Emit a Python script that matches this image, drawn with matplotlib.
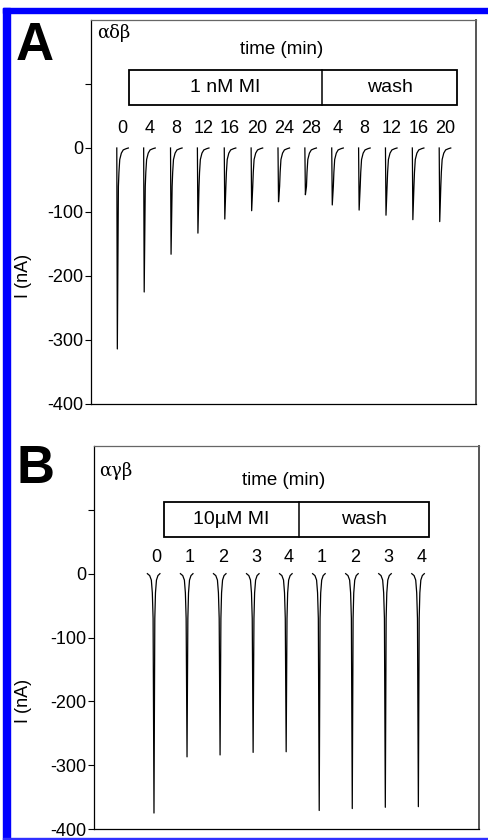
import matplotlib.pyplot as plt
from matplotlib.patches import Rectangle
import numpy as np

plt.rcParams['font.family'] = ['Liberation Sans', 'DejaVu Sans']

# panel A: alpha-delta-beta, 1 nM MI then wash
a_labels = ["0", "4", "8", "12", "16", "20", "24", "28", "4", "8", "12", "16", "20"]
a_peaks = [-314, -225, -166, -133, -111, -98, -84, -73, -89, -97, -105, -112, -115]

# panel B: alpha-gamma-beta, 10 uM MI then wash
b_labels = ["0", "1", "2", "3", "4", "1", "2", "3", "4"]
b_peaks = [-375, -287, -284, -280, -279, -371, -368, -366, -365]

# trace template (offset in slot units, current in nA), None = peak value
a_shape_t = [-0.02, 0.0, 0.04, 0.06, 0.09, 0.15, 0.22, 0.33, 0.41]
a_shape_i = [0, None, -60, -38, -18, -8, -3, -1, 0]
b_shape_t = [-0.20, -0.13, -0.08, -0.05, -0.027, 0.0, 0.025, 0.045, 0.075, 0.12, 0.18]
b_shape_i = [0, -3, -10, -30, -70, None, -70, -30, -10, -3, 0]

W, H = 488, 840
fig = plt.figure(figsize=(W / 100, H / 100), dpi=100)

# blue frame
fig.patches.append(Rectangle((3 / W, 0), 7 / W, 1 - 8 / H, transform=fig.transFigure,
                             color='#0000ff', zorder=0))
fig.patches.append(Rectangle((3 / W, 1 - 13 / H), 1, 5 / H, transform=fig.transFigure,
                             color='#0000ff', zorder=0))
fig.patches.append(Rectangle((3 / W, 1 / H), 1, 1.2 / H, transform=fig.transFigure,
                             color='#3030ff', zorder=0))


def draw_panel(rect, xlim, labels, peaks, shape_t, shape_i, shift, box, divider,
               drug, title, tlab, nlab, subunits, letter, letter_y):
    ax = fig.add_axes(rect)
    for i, p in enumerate(peaks):
        xs = [i + shift + t for t in shape_t]
        ys = [p if v is None else v for v in shape_i]
        ax.plot(xs, ys, color='black', lw=0.9)
        ax.text(i, nlab, labels[i], ha='center', va='center', fontsize=13)
    ax.set_xlim(*xlim)
    ax.set_ylim(-400, 200)
    ax.set_xticks([])
    ax.set_yticks([-400, -300, -200, -100, 0, 100])
    ax.set_yticklabels(['-400', '-300', '-200', '-100', '0', ''])
    ax.tick_params(axis='y', direction='out', length=4, width=0.8, pad=1.5, labelsize=13)
    for s in ax.spines.values():
        s.set_linewidth(0.9)
    ax.spines['right'].set_color('#555555')
    ax.spines['right'].set_linewidth(1.4)
    ax.spines['top'].set_color('#666666')

    x0, x1 = box[0], box[1]
    y0, y1 = box[2], box[3]
    ax.add_patch(Rectangle((x0, y0), x1 - x0, y1 - y0, fill=False, lw=1.3, ec='black'))
    ax.plot([divider, divider], [y0, y1], color='black', lw=1.1)
    ax.text((x0 + divider) / 2, (y0 + y1) / 2, drug, ha='center', va='center', fontsize=14)
    ax.text((divider + x1) / 2, (y0 + y1) / 2, 'wash', ha='center', va='center', fontsize=14)
    ax.text(title[0], title[1], 'time (min)', ha='center', va='center', fontsize=13.5)
    ax.text(tlab[0], tlab[1], subunits, ha='left', va='center', fontsize=13,
            family='DejaVu Serif')
    ax.text((23 - rect[0] * W) / (rect[2] * W), 1 / 3, 'I (nA)', rotation=90,
            ha='center', va='center', fontsize=13, transform=ax.transAxes)
    fig.text(16 / W, 1 - letter_y / H, letter, fontsize=38, fontweight='bold',
             ha='left', va='baseline')
    return ax


draw_panel([91 / W, 1 - 404 / H, 385 / W, 384 / H], (-1.18, 13.15),
           a_labels, a_peaks, a_shape_t, a_shape_i, -0.2,
           (0.235, 12.445, 67, 122), 7.42, '1 nM MI',
           (5.92, 154), (-0.96, 180), 31, 'αδβ', 'A', 60)

draw_panel([94 / W, 1 - 829 / H, 385 / W, 383 / H], (-1.90, 9.75),
           b_labels, b_peaks, b_shape_t, b_shape_i, -0.085,
           (0.22, 8.24, 58, 113), 4.29, '10µM MI',
           (3.85, 146), (-1.74, 161), 26, 'αγβ', 'B', 483)

fig.savefig('out.png', dpi=100, facecolor='white')
